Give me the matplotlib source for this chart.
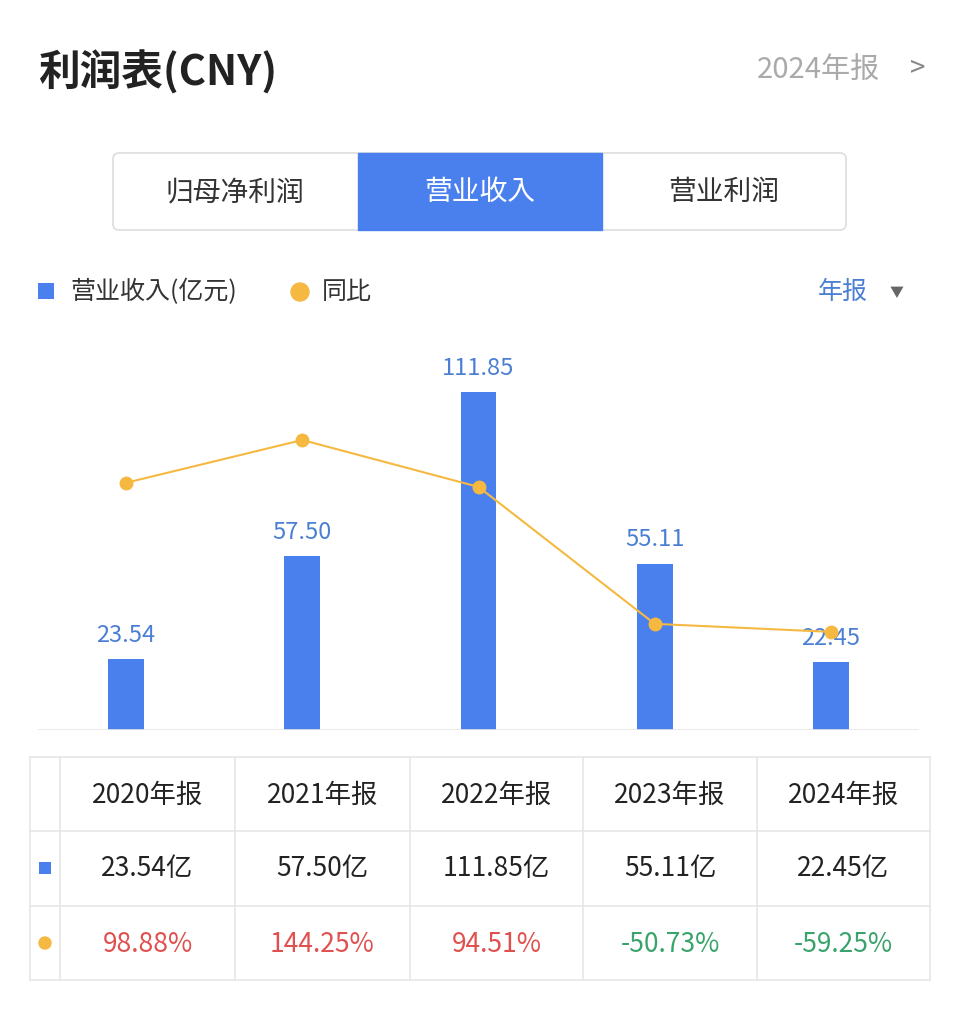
import matplotlib
matplotlib.use("Agg")
import matplotlib.pyplot as plt
from matplotlib import font_manager as fm
from matplotlib.patches import Rectangle, FancyBboxPatch

cjk = None
for f in fm.fontManager.ttflist:
    if "CJK" in f.name and ("SC" in f.name or cjk is None):
        cjk = f.name
if cjk is None:
    for p in fm.findSystemFonts():
        if "CJK" in p or "cjk" in p:
            fm.fontManager.addfont(p)
            cjk = fm.FontProperties(fname=p).get_name()
            break
plt.rcParams["font.family"] = [cjk or "Noto Sans CJK SC", "DejaVu Sans"]

years = ["2020年报", "2021年报", "2022年报", "2023年报", "2024年报"]
revenue = [23.54, 57.50, 111.85, 55.11, 22.45]
yoy = [98.88, 144.25, 94.51, -50.73, -59.25]
tabs = ["归母净利润", "营业收入", "营业利润"]

W, H = 960, 1028
BLUE = "#4a80ee"
ORANGE = "#f5b942"
RED = "#e0504f"
GREEN = "#3aa36b"
DARK = "#222222"
LINE = "#e6e6e6"

fig = plt.figure(figsize=(W / 100, H / 100), dpi=100)
bg = fig.add_axes([0, 0, 1, 1])
bg.set_xlim(0, W); bg.set_ylim(H, 0); bg.axis("off")

bg.text(38, 72, "利润表(CNY)", fontsize=30, fontweight="bold", color=DARK, va="center")
bg.text(880, 70, "2024年报", fontsize=21, color="#aaaaaa", va="center", ha="right")
bg.text(918, 68, ">", fontsize=20, color="#888888", va="center", ha="center")

bg.add_patch(FancyBboxPatch((113, 153), 733, 77, boxstyle="round,pad=0,rounding_size=6",
                            fc="white", ec="#dddddd", lw=1.2))
bg.add_patch(Rectangle((358, 153), 244, 77, fc=BLUE, ec=BLUE))
for i, t in enumerate(tabs):
    cx = [235, 480, 724][i]
    bg.text(cx, 192, t, fontsize=20, color="white" if i == 1 else "#333333", ha="center", va="center")

bg.add_patch(Rectangle((38, 283), 16, 16, fc=BLUE))
bg.text(70, 292, "营业收入(亿元)", fontsize=18, color="#333333", va="center")
bg.add_patch(plt.Circle((300, 292), 9, color=ORANGE))
bg.text(322, 292, "同比", fontsize=18, color="#333333", va="center")
bg.text(843, 292, "年报", fontsize=18, color="#4a7fd4", va="center", ha="center")
bg.text(897, 293, "▼", fontsize=10, color="#666666", va="center", ha="center")

left, right, top, bottom = 38, 919, 340, 730
ax = fig.add_axes([left / W, 1 - bottom / H, (right - left) / W, (bottom - top) / H])
ax.set_facecolor("none")
x = list(range(len(years)))
ax.bar(x, revenue, width=36 / 176.25, color=BLUE)
ax.set_xlim(-0.5, 4.5)
ax.set_ylim(0, 129.1)
for i, v in zip(x, revenue):
    ax.text(i, v + 4, f"{v:.2f}", ha="center", va="bottom", fontsize=17, color="#4a7fd4")
ax.axis("off")
ax.axhline(0, color=LINE, lw=1.2)
ax2 = ax.twinx()
ax2.plot(x, yoy, color=ORANGE, lw=1.5, marker="o", ms=9)
ax2.set_ylim(-163.3, 250.3)
ax2.axis("off")

rows = [757, 831, 906, 980]
cols = [30, 60, 235, 410, 583, 757, 930]
for y in rows:
    bg.plot([30, 930], [y, y], color=LINE, lw=1.2)
for c in cols:
    bg.plot([c, c], [757, 980], color=LINE, lw=1.2)
for i in range(5):
    cx = (cols[i + 1] + cols[i + 2]) / 2
    bg.text(cx, 795, years[i], fontsize=19, color=DARK, ha="center", va="center")
    bg.text(cx, 869, f"{revenue[i]:.2f}亿", fontsize=19, color=DARK, ha="center", va="center")
    bg.text(cx, 944, f"{yoy[i]:.2f}%", fontsize=19, color=RED if yoy[i] >= 0 else GREEN,
            ha="center", va="center")
bg.add_patch(Rectangle((39, 862), 12, 12, fc=BLUE))
bg.add_patch(plt.Circle((45, 943), 6, color=ORANGE))

fig.savefig("out.png", dpi=100)
